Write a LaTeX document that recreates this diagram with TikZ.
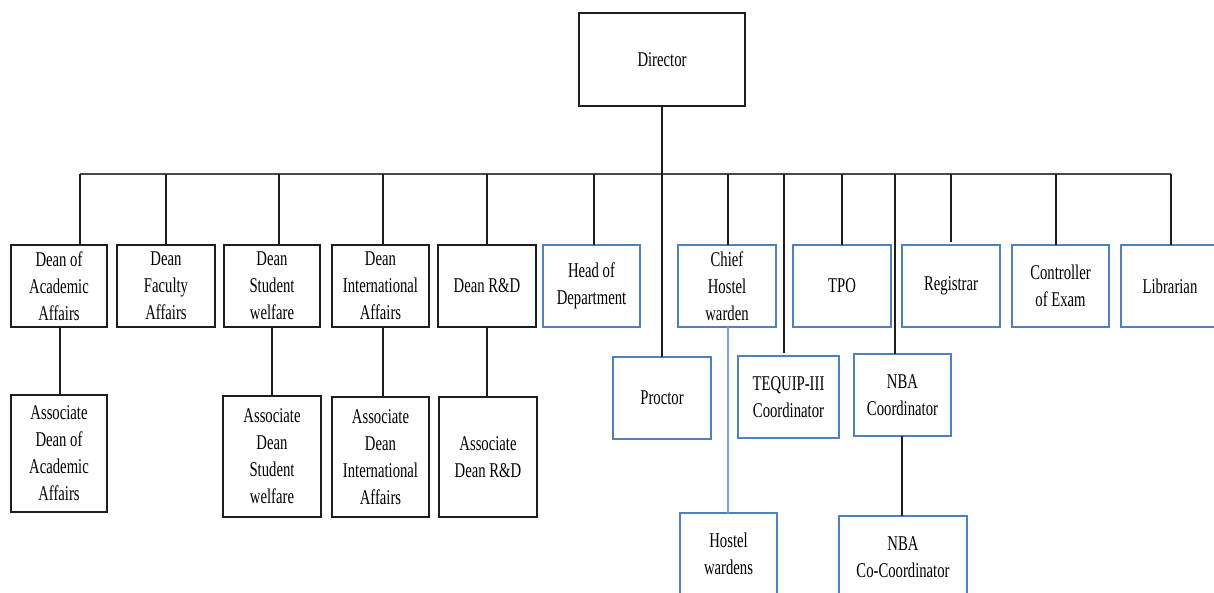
\documentclass[tikz,border=0pt]{standalone}
\usepackage{fontspec}
\setmainfont{Liberation Serif}[FakeStretch=0.7]
\definecolor{boxblue}{RGB}{79,129,189}
\definecolor{linkblue}{RGB}{120,165,215}
\definecolor{ink}{RGB}{30,30,30}
\begin{document}
\begin{tikzpicture}[x=1pt,y=-1pt,
  font=\fontsize{21}{27}\selectfont,
  unit/.style={draw=ink,line width=1.5pt,inner sep=0pt,outer sep=0pt,
    align=center,minimum width=97pt,minimum height=82pt},
  office/.style={unit,draw=boxblue,line width=1.3pt},
  link/.style={draw=ink,line width=1.3pt},
  bus/.style={draw=ink!80,line width=1.6pt},
  sublink/.style={draw=linkblue,line width=1.1pt}]
\useasboundingbox (0,0) rectangle (1214,592);

% top
\node[unit,minimum width=166pt,minimum height=93pt] (dir) at (662,59.5) {Director};

% first row: deans
\node[unit,minimum width=96pt] (acad) at (59,286) {Dean of\\Academic\\Affairs};
\node[unit,minimum width=98pt] (fac)  at (166,286) {Dean\\Faculty\\Affairs};
\node[unit,minimum width=96pt] (stu)  at (272,286) {Dean\\Student\\welfare};
\node[unit] (intl) at (380.5,286) {Dean\\International\\Affairs};
\node[unit,minimum width=98pt] (rd)   at (487,286) {Dean R\&D};

% first row: offices
\node[office] (hod)   at (591.5,286) {Head of\\Department};
\node[office,minimum width=98pt] (chief) at (727,286) {Chief\\Hostel\\warden};
\node[office,minimum width=98pt] (tpo)   at (842,286) {TPO};
\node[office,minimum width=98pt] (reg) at (951,286) {Registrar};
\node[office] (coe)   at (1060.5,286) {Controller\\of Exam};
\node[office,minimum width=98pt] (lib)   at (1170,286) {Librarian};

% second row: offices
\node[office,minimum width=98pt] (proc) at (662,398) {Proctor};
\node[office,minimum width=101pt] (teq) at (788.5,397) {TEQUIP-III\\Coordinator};
\node[office] (nba)  at (902.5,395) {NBA\\Coordinator};

% second row: associate deans
\node[unit,minimum width=96pt,minimum height=117pt] (aacad) at (59,453.5) {Associate\\Dean of\\Academic\\Affairs};
\node[unit,minimum width=98pt,minimum height=121pt] (astu)  at (272,456.5) {Associate\\Dean\\Student\\welfare};
\node[unit,minimum height=120pt] (aintl) at (380.5,457) {Associate\\Dean\\International\\Affairs};
\node[unit,minimum width=98pt,minimum height=120pt] (ard)   at (488,457) {Associate\\Dean R\&D};

% third row
\node[office] (hw)    at (728.5,554) {Hostel\\wardens};
\node[office,minimum width=128pt] (nbaco) at (903,557) {NBA\\Co-Coordinator};

% bus line
\coordinate (busL) at (80,174);
\coordinate (busR) at (1171,174);
\draw[bus] (busL) -- (busR);

% director to proctor, through the bus
\draw[link] (dir.south) -- (proc.north);

% drops from the bus
\draw[link] ([xshift=21pt]acad.north) -- ([xshift=21pt]acad.north |- busL);
\draw[link] (fac.north)  -- (fac.north |- busL);
\draw[link] ([xshift=7pt]stu.north) -- ([xshift=7pt]stu.north |- busL);
\draw[link] ([xshift=2.5pt]intl.north) -- ([xshift=2.5pt]intl.north |- busL);
\draw[link] (rd.north)   -- (rd.north |- busL);
\draw[link] ([xshift=2.5pt]hod.north) -- ([xshift=2.5pt]hod.north |- busL);
\draw[link] ([xshift=1pt]chief.north) -- ([xshift=1pt]chief.north |- busL);
\draw[link] (tpo.north)  -- (tpo.north |- busL);
\draw[link,shorten <=3pt] (reg.north) -- (reg.north |- busL);
\draw[link] ([xshift=-4.5pt]coe.north) -- ([xshift=-4.5pt]coe.north |- busL);
\draw[link] ([xshift=1pt]lib.north) -- ([xshift=1pt]lib.north |- busR);
\draw[link,shorten <=3pt] ([xshift=-4.5pt]teq.north) -- ([xshift=-4.5pt]teq.north |- busL);
\draw[link] ([xshift=-7.5pt]nba.north) -- ([xshift=-7.5pt]nba.north |- busL);

% deans to associates
\draw[link] ([xshift=1pt]acad.south) -- ([xshift=1pt]aacad.north);
\draw[link] (stu.south)  -- (astu.north);
\draw[link] ([xshift=2.5pt]intl.south) -- ([xshift=2.5pt]aintl.north);
\draw[link] (rd.south) -- (rd.south |- ard.north);

% offices to their teams
\draw[sublink] ([xshift=1pt]chief.south) -- ([xshift=-0.5pt]hw.north);
\draw[link] ([xshift=-0.5pt]nba.south) -- ([xshift=-1pt]nbaco.north);
\end{tikzpicture}
\end{document}
